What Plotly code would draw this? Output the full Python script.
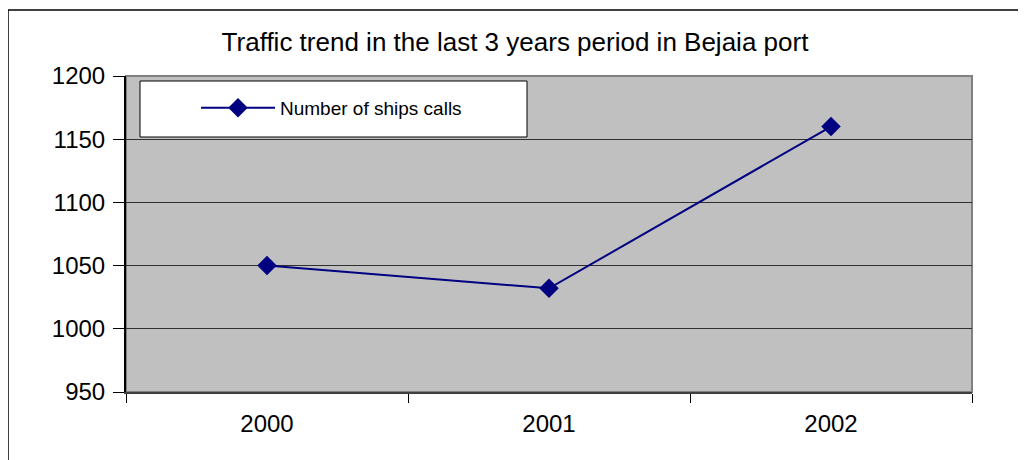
import plotly.graph_objects as go

years = ["2000", "2001", "2002"]
ship_calls = [1050, 1032, 1160]

# the page puts the figure 8px in from the window corner
OFF = 8
W, H = 1026 - OFF, 460 - OFF
L, T = 126 - OFF, 76 - OFF
R, B = W - (972 - OFF), H - (392 - OFF)
pw, ph = W - L - R, H - T - B


def px_x(x):
    return (x - OFF - L) / pw


def px_y(y):
    return (H - B - (y - OFF)) / ph


trace = go.Scatter(
    x=years,
    y=ship_calls,
    mode="lines+markers",
    name="Number of ships calls",
    line=dict(color="#000080", width=2),
    marker=dict(symbol="diamond", size=15, color="#000080"),
)

fig = go.Figure(data=[trace])

fig.update_layout(
    width=W,
    height=H,
    margin=dict(l=L, r=R, t=T, b=B),
    paper_bgcolor="white",
    plot_bgcolor="#C0C0C0",
    font=dict(family="Liberation Sans, Arial, sans-serif", color="black", size=24),
    title=dict(
        text="Traffic trend in the last 3 years period in Bejaia port",
        x=px_x(515), xref="paper", xanchor="center",
        y=1 - (42 - OFF) / H, yanchor="middle",
        font=dict(size=26),
    ),
    showlegend=True,
    legend=dict(
        x=px_x(196), y=px_y(108), xanchor="left", yanchor="middle",
        bgcolor="rgba(0,0,0,0)",
        borderwidth=0,
        font=dict(size=19),
        itemwidth=74,
    ),
    shapes=[
        # outer chart border: only top and left edges are in view
        dict(type="line", xref="paper", yref="paper",
             x0=px_x(8), x1=px_x(1026), y0=px_y(10), y1=px_y(10),
             line=dict(color="black", width=1.5), layer="below"),
        dict(type="line", xref="paper", yref="paper",
             x0=px_x(8), x1=px_x(8), y0=px_y(10), y1=px_y(460),
             line=dict(color="black", width=1.5), layer="below"),
        # plot area frame (top/right)
        dict(type="rect", xref="paper", yref="paper",
             x0=0, x1=1, y0=0, y1=1,
             line=dict(color="#808080", width=2), layer="below"),
        # legend box
        dict(type="rect", xref="paper", yref="paper",
             x0=px_x(140), x1=px_x(527), y0=px_y(137), y1=px_y(81),
             fillcolor="white", line=dict(color="black", width=1)),
    ],
)

fig.update_xaxes(
    type="category",
    range=[-0.5, 2.5],
    tickson="boundaries",
    ticks="outside",
    ticklen=9,
    tickcolor="black",
    showgrid=False,
    showline=True,
    linecolor="#404040",
    linewidth=2,
    tickfont=dict(size=24),
    ticklabelstandoff=9,
)

fig.update_yaxes(
    range=[950, 1200],
    dtick=50,
    ticks="outside",
    ticklen=11,
    tickcolor="black",
    showgrid=True,
    gridcolor="#303030",
    gridwidth=1,
    showline=True,
    linecolor="black",
    linewidth=2,
    zeroline=False,
    tickfont=dict(size=24),
    ticklabelstandoff=3,
)

fig.write_html("out.html")
